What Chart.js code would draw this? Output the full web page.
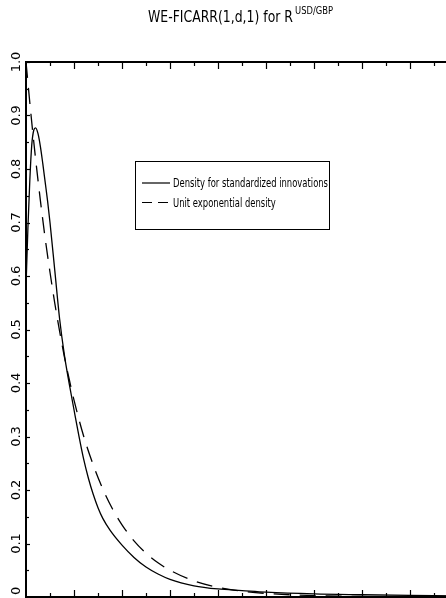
<!DOCTYPE html>
<html>
<head>
<meta charset="utf-8">
<title>WE-FICARR(1,d,1) for R USD/GBP</title>
<script src="https://cdn.jsdelivr.net/npm/chart.js@4.4.1/dist/chart.umd.min.js"></script>
<style>
  html, body { margin: 0; padding: 0; background: #fff; overflow: hidden; }
  #chart-area { display: block; }
</style>
</head>
<body>
<canvas id="chart-area" width="490" height="620"></canvas>
<script>
// density for standardized innovations
var xDens = [0, 0.04, 0.08, 0.12, 0.16, 0.2, 0.25, 0.3, 0.35, 0.4, 0.45, 0.5, 0.6, 0.7, 0.8, 0.9,
             1.0, 1.1, 1.2, 1.3, 1.4, 1.5, 1.6, 1.75, 2.0, 2.25, 2.5, 2.75, 3.0, 3.5, 4.0, 4.5,
             5.0, 6.0, 7.0, 8.0, 9.0, 9.5];
var yDens = [0.58, 0.69, 0.78, 0.845, 0.872, 0.877, 0.866, 0.842, 0.81, 0.775, 0.74, 0.70, 0.61, 0.52, 0.452, 0.399,
             0.350, 0.302, 0.258, 0.222, 0.192, 0.167, 0.147, 0.125, 0.097, 0.074, 0.056, 0.043, 0.033, 0.021, 0.015, 0.012,
             0.009, 0.0057, 0.0042, 0.003, 0.0022, 0.002];

// unit exponential density
var xExp = [0, 0.1, 0.2, 0.3, 0.4, 0.5, 0.6, 0.7, 0.8, 0.9, 1.0, 1.2, 1.4, 1.6, 1.8, 2.0,
            2.25, 2.5, 2.75, 3.0, 3.5, 4.0, 4.5, 5.0, 6.0, 7.0, 8.0, 9.0, 9.5];
var yExp = [1.0, 0.905, 0.819, 0.741, 0.670, 0.607, 0.549, 0.497, 0.449, 0.407, 0.368, 0.301, 0.247, 0.202, 0.165, 0.135,
            0.105, 0.082, 0.064, 0.050, 0.030, 0.018, 0.011, 0.0067, 0.0025, 0.0009, 0.0003, 0.0001, 0.0001];

var yTickLabels = ['0', '0.1', '0.2', '0.3', '0.4', '0.5', '0.6', '0.7', '0.8', '0.9', '1.0'];
var seriesLabels = ['Density for standardized innovations', 'Unit exponential density'];
var titleMain = 'WE-FICARR(1,d,1) for R';
var titleSup = 'USD/GBP';

var fontFam = "'Liberation Sans Narrow', 'DejaVu Sans Condensed', 'DejaVu Sans', sans-serif";

function toPoints(xs, ys) {
  var pts = [];
  for (var i = 0; i < xs.length; i++) pts.push({x: xs[i], y: ys[i]});
  return pts;
}

// draw text squeezed/stretched to a given width
function fitText(ctx, text, x, y, width) {
  var w = ctx.measureText(text).width;
  ctx.save();
  ctx.translate(x, y);
  ctx.scale(width / w, 1);
  ctx.fillText(text, 0, 0);
  ctx.restore();
}

var titlePlugin = {
  id: 'supTitle',
  afterDraw: function(chart) {
    var ctx = chart.ctx;
    ctx.save();
    ctx.fillStyle = '#000';
    ctx.textBaseline = 'alphabetic';
    ctx.textAlign = 'left';
    ctx.font = '15px ' + fontFam;
    fitText(ctx, titleMain, 148, 22, 145);
    ctx.font = '11px ' + fontFam;
    fitText(ctx, titleSup, 295, 14, 38);
    ctx.restore();
  }
};

var framePlugin = {
  id: 'frame',
  afterDraw: function(chart) {
    var ctx = chart.ctx;
    var a = chart.chartArea;
    var xs = chart.scales.x, ys = chart.scales.y;
    ctx.save();
    ctx.strokeStyle = '#000';
    ctx.lineWidth = 2;
    ctx.beginPath();
    ctx.moveTo(a.right + 20, a.top);
    ctx.lineTo(a.left, a.top);
    ctx.lineTo(a.left, a.bottom);
    ctx.lineTo(a.right + 20, a.bottom);
    ctx.stroke();

    // x ticks, inward on bottom and top
    ctx.lineWidth = 1.2;
    xs.ticks.forEach(function(t) {
      if (t.value <= 0) return;
      var px = Math.round(xs.getPixelForValue(t.value)) + 0.5;
      var major = Math.abs(t.value - Math.round(t.value)) < 1e-6;
      var len = major ? 7 : 4;
      ctx.beginPath();
      ctx.moveTo(px, a.bottom);
      ctx.lineTo(px, a.bottom - len);
      ctx.moveTo(px, a.top);
      ctx.lineTo(px, a.top + len);
      ctx.stroke();
    });

    // y ticks + rotated labels
    ctx.fillStyle = '#000';
    ctx.font = '12px ' + fontFam;
    ctx.textAlign = 'center';
    ctx.textBaseline = 'middle';
    ys.ticks.forEach(function(t) {
      var py = Math.round(ys.getPixelForValue(t.value)) + 0.5;
      var k = Math.round(t.value * 10);
      var major = Math.abs(t.value * 10 - k) < 1e-6;
      ctx.beginPath();
      ctx.moveTo(a.left, py);
      ctx.lineTo(a.left + (major ? 4 : 3), py);
      ctx.stroke();
      if (major) {
        var cy = ys.getPixelForValue(t.value);
        if (k === 0) cy -= 6; // keep the bottom label inside the page
        ctx.save();
        ctx.translate(17, cy);
        ctx.rotate(-Math.PI / 2);
        ctx.scale(1.2, 1);
        ctx.fillText(yTickLabels[k], 0, 0);
        ctx.restore();
      }
    });
    ctx.restore();
  }
};

var legendPlugin = {
  id: 'boxLegend',
  afterDraw: function(chart) {
    var ctx = chart.ctx;
    var box = {l: 135, t: 161, r: 329, b: 229};
    ctx.save();
    ctx.strokeStyle = '#000';
    ctx.lineWidth = 1;
    ctx.strokeRect(box.l + 0.5, box.t + 0.5, box.r - box.l, box.b - box.t);
    ctx.font = '12px ' + fontFam;
    var scaleX = 155 / ctx.measureText(seriesLabels[0]).width;
    ctx.fillStyle = '#000';
    ctx.textBaseline = 'middle';
    chart.data.datasets.forEach(function(ds, i) {
      var y = 183 + i * 19.5;
      ctx.lineWidth = 1.2;
      ctx.setLineDash(i === 0 ? [] : [10, 6]);
      ctx.beginPath();
      ctx.moveTo(142, y);
      ctx.lineTo(170, y);
      ctx.stroke();
      ctx.setLineDash([]);
      var w = ctx.measureText(ds.label).width * scaleX;
      fitText(ctx, ds.label, 173, y + 1, w);
    });
    ctx.restore();
  }
};

var config = {
  type: 'line',
  data: {
    datasets: [{
      label: seriesLabels[0],
      data: toPoints(xDens, yDens),
      borderColor: '#000',
      borderWidth: 1.3,
      pointRadius: 0,
      cubicInterpolationMode: 'monotone',
      fill: false
    }, {
      label: seriesLabels[1],
      data: toPoints(xExp, yExp),
      borderColor: '#000',
      borderWidth: 1.3,
      borderDash: [16, 10],
      pointRadius: 0,
      cubicInterpolationMode: 'monotone',
      fill: false
    }]
  },
  options: {
    responsive: false,
    animation: false,
    layout: { padding: { left: 26, top: 62, right: 8, bottom: 23 } },
    plugins: {
      legend: { display: false },
      title: { display: false },
      tooltip: { enabled: false }
    },
    scales: {
      x: {
        type: 'linear',
        min: 0,
        max: 9.5,
        display: false,
        ticks: { stepSize: 0.5 }
      },
      y: {
        min: 0,
        max: 1,
        display: false,
        ticks: { stepSize: 0.05 }
      }
    }
  },
  plugins: [framePlugin, legendPlugin, titlePlugin]
};

window.onload = function() {
  var ctx = document.getElementById('chart-area').getContext('2d');
  window.myChart = new Chart(ctx, config);
};
</script>
</body>
</html>
